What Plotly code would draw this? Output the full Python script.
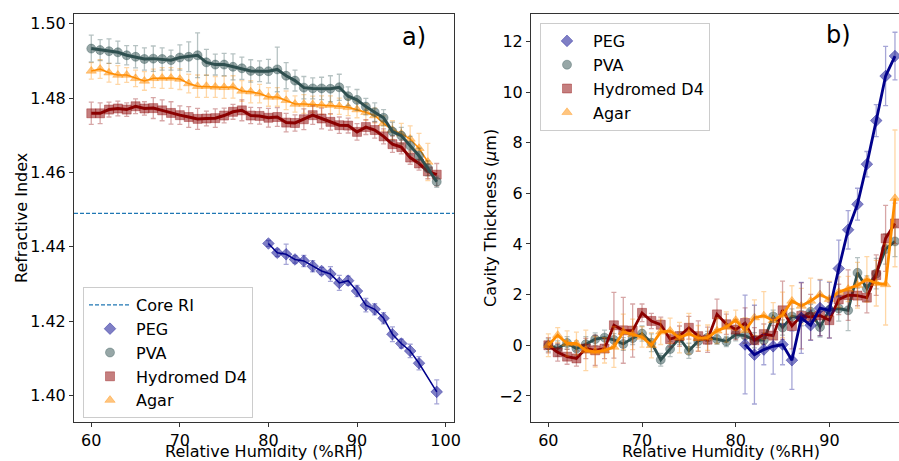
import plotly.graph_objects as go

# ---------------- data: panel a) refractive index ----------------
RH_A = list(range(60, 100))
PVA_RI = [1.4933, 1.4929, 1.4926, 1.4923, 1.4915, 1.4911, 1.4905, 1.4906, 1.4905, 1.4902,
          1.4909, 1.4911, 1.4915, 1.4896, 1.4890, 1.4890, 1.4884, 1.4880, 1.4873, 1.4872,
          1.4872, 1.4877, 1.4860, 1.4847, 1.4828, 1.4826, 1.4826, 1.4825, 1.4829, 1.4805,
          1.4795, 1.4777, 1.4762, 1.4747, 1.4710, 1.4699, 1.4672, 1.4645, 1.4611, 1.4575]
PVA_RI_ERR = [0.0036, 0.0028, 0.0033, 0.0030, 0.0026, 0.0030, 0.0030, 0.0034, 0.0030, 0.0027,
              0.0034, 0.0040, 0.0060, 0.0035, 0.0028, 0.0030, 0.0035, 0.0030, 0.0030, 0.0028,
              0.0032, 0.0060, 0.0035, 0.0028, 0.0030, 0.0028, 0.0030, 0.0035, 0.0035, 0.0025,
              0.0028, 0.0022, 0.0025, 0.0022, 0.0025, 0.0022, 0.0025, 0.0020, 0.0020, 0.0015]

HYD_RI = [1.4759, 1.4759, 1.4769, 1.4772, 1.4769, 1.4778, 1.4772, 1.4773, 1.4767, 1.4760,
          1.4754, 1.4749, 1.4744, 1.4745, 1.4746, 1.4753, 1.4763, 1.4767, 1.4753, 1.4752,
          1.4747, 1.4749, 1.4734, 1.4733, 1.4743, 1.4754, 1.4745, 1.4736, 1.4727, 1.4726,
          1.4709, 1.4722, 1.4714, 1.4697, 1.4676, 1.4668, 1.4640, 1.4624, 1.4603, 1.4594]
HYD_RI_ERR = [0.0030, 0.0028, 0.0020, 0.0020, 0.0018, 0.0020, 0.0018, 0.0028, 0.0028, 0.0030,
              0.0025, 0.0028, 0.0028, 0.0020, 0.0025, 0.0020, 0.0020, 0.0028, 0.0022, 0.0022,
              0.0025, 0.0025, 0.0025, 0.0022, 0.0028, 0.0025, 0.0028, 0.0022, 0.0022, 0.0020,
              0.0022, 0.0020, 0.0022, 0.0020, 0.0022, 0.0018, 0.0018, 0.0018, 0.0020, 0.0030]

AGAR_RH_A = list(range(60, 99))
AGAR_RI = [1.4873, 1.4878, 1.4868, 1.4862, 1.4862, 1.4853, 1.4846, 1.4853, 1.4854, 1.4854,
           1.4851, 1.4839, 1.4832, 1.4832, 1.4830, 1.4829, 1.4830, 1.4819, 1.4817, 1.4812,
           1.4803, 1.4803, 1.4794, 1.4784, 1.4784, 1.4783, 1.4781, 1.4781, 1.4778, 1.4775,
           1.4769, 1.4762, 1.4753, 1.4732, 1.4714, 1.4704, 1.4690, 1.4665, 1.4628]
AGAR_RI_ERR = [0.0022, 0.0025, 0.0025, 0.0025, 0.0020, 0.0022, 0.0025, 0.0025, 0.0028, 0.0028,
               0.0028, 0.0025, 0.0030, 0.0030, 0.0028, 0.0030, 0.0030, 0.0028, 0.0030, 0.0025,
               0.0025, 0.0025, 0.0025, 0.0022, 0.0025, 0.0022, 0.0025, 0.0025, 0.0022, 0.0022,
               0.0022, 0.0022, 0.0020, 0.0020, 0.0025, 0.0028, 0.0035, 0.0040, 0.0050]

PEG_RH_A = [80, 81, 82, 83, 84, 85, 86, 87, 88, 89, 90, 91, 92, 93, 94, 95, 96, 97, 99]
PEG_RI = [1.4409, 1.4384, 1.4380, 1.4366, 1.4362, 1.4348, 1.4335, 1.4327, 1.4303, 1.4309,
          1.4281, 1.4243, 1.4232, 1.4208, 1.4165, 1.4140, 1.4120, 1.4087, 1.4010]
PEG_RI_ERR = [0.0008, 0.0010, 0.0027, 0.0010, 0.0015, 0.0015, 0.0010, 0.0020, 0.0020, 0.0012,
              0.0015, 0.0018, 0.0015, 0.0015, 0.0020, 0.0012, 0.0018, 0.0018, 0.0032]

CORE_RI = 1.449

# ---------------- data: panel b) cavity thickness ----------------
RH_B = list(range(60, 98))
PVA_CT = [0.00, -0.13, 0.09, -0.13, 0.04, 0.24, 0.30, 0.21, 0.05, 0.28,
          0.46, 0.10, -0.57, -0.15, 0.28, -0.22, 0.17, 0.30, 0.24, 0.15,
          0.42, 0.38, 0.20, 0.20, 1.14, 0.70, 1.14, 1.07, 1.32, 0.72,
          1.40, 1.45, 1.38, 2.86, 2.24, 2.83, 3.80, 4.10]
PVA_CT_ERR = [0.25, 0.30, 0.25, 0.30, 0.30, 0.25, 0.30, 0.25, 0.25, 0.25,
              0.30, 0.35, 0.25, 0.30, 0.25, 0.30, 0.25, 0.25, 0.20, 0.20,
              0.25, 0.30, 0.30, 0.30, 0.25, 0.30, 0.30, 0.30, 0.30, 0.40,
              0.40, 0.50, 0.80, 0.60, 0.50, 0.60, 0.60, 0.60]

HYD_CT = [0.00, -0.28, -0.45, -0.52, -0.13, -0.20, -0.13, 0.79, 0.59, 0.58,
          1.28, 0.96, 0.81, 0.24, 0.36, 0.69, 0.36, 0.22, 1.22, 0.83,
          0.62, 0.88, 0.20, 0.44, 0.38, 1.38, 0.76, 1.16, 1.11, 1.18,
          0.99, 1.81, 1.98, 1.96, 1.88, 2.77, 4.22, 4.81]
HYD_CT_ERR = [0.30, 0.35, 0.30, 0.30, 0.40, 0.60, 0.40, 1.30, 1.30, 1.05,
              0.35, 0.30, 0.30, 0.30, 0.40, 0.45, 0.60, 0.50, 0.60, 0.40,
              0.40, 0.60, 0.50, 0.40, 0.40, 1.15, 0.90, 1.30, 0.90, 0.80,
              0.70, 0.60, 1.00, 0.40, 0.60, 0.80, 1.30, 0.80]

AGAR_CT = [0.00, 0.40, 0.07, 0.07, -0.20, -0.26, -0.20, -0.07, 0.53, 0.43,
           0.33, 0.00, 0.53, 0.57, 0.30, 0.46, 0.28, 0.30, 0.57, 0.72,
           0.99, 0.59, 1.09, 1.17, 0.98, 1.20, 1.75, 1.55, 1.75, 2.00,
           1.82, 2.10, 2.22, 2.37, 2.60, 2.45, 2.40, 5.80]
AGAR_CT_ERR = [0.45, 0.30, 0.50, 0.45, 0.80, 0.60, 0.50, 0.80, 0.70, 0.60,
               0.40, 0.50, 0.50, 0.50, 0.60, 0.80, 0.50, 0.50, 0.50, 0.60,
               0.40, 0.50, 0.70, 0.95, 0.70, 0.90, 0.60, 0.70, 0.90, 0.60,
               0.70, 0.60, 0.50, 0.90, 0.90, 0.90, 1.60, 2.70]

PEG_RH_B = list(range(81, 98))
PEG_CT = [0.03, -0.37, -0.17, -0.04, 0.03, -0.59, 1.08, 0.79, 1.47, 1.38,
          3.03, 4.56, 5.57, 7.15, 8.87, 10.63, 11.42]
PEG_CT_ERR = [1.95, 1.95, 0.60, 1.10, 0.80, 1.15, 1.40, 0.60, 1.10, 1.10,
              1.12, 0.76, 0.63, 0.50, 0.63, 1.17, 0.94]

X_TITLE = "Relative Humidity (%RH)"
Y_TITLE_A = "Refractive Index"
Y_TITLE_B = "Cavity Thickness (<i>μ</i>m)"

# ---------------- styling ----------------
FONT = "DejaVu Sans"
XRANGE_A = [58.05, 100.95]
YRANGE_A = [1.3929, 1.5026]
XRANGE_B = [58.15, 97.43]
YRANGE_B = [-3.03, 13.08]

COL = {
    "PEG": (0, 0, 139),
    "PVA": (47, 79, 79),
    "Hydromed D4": (139, 0, 0),
    "Agar": (255, 140, 0),
}
SYM = {"PEG": "diamond", "PVA": "circle", "Hydromed D4": "square", "Agar": "triangle-up"}
MSIZE = {"PEG": 9, "PVA": 9, "Hydromed D4": 9, "Agar": 9}


def rgba(c, a):
    return "rgba(%d,%d,%d,%.2f)" % (c[0], c[1], c[2], a)


fig = go.Figure()


def add_series(name, x, y, err, xa, ya, legend, lw, order):
    c = COL[name]
    fig.add_trace(go.Scatter(
        x=x, y=y, mode="markers", name=name, xaxis=xa, yaxis=ya, legend=legend,
        legendrank=order,
        marker=dict(symbol=SYM[name], size=MSIZE[name], color=rgba(c, 0.5),
                    line=dict(color=rgba(c, 0.35), width=1)),
        error_y=dict(type="data", array=err, visible=True, color=rgba(c, 0.35),
                     thickness=1.3, width=2.5),
    ))
    fig.add_trace(go.Scatter(
        x=x, y=y, mode="lines", showlegend=False, xaxis=xa, yaxis=ya, hoverinfo="skip",
        line=dict(color=rgba(c, 1.0), width=lw),
    ))


# panel a
fig.add_trace(go.Scatter(
    x=XRANGE_A, y=[CORE_RI, CORE_RI], mode="lines", name="Core RI",
    xaxis="x", yaxis="y", legend="legend", legendrank=1,
    line=dict(color="#1f77b4", width=1.3, dash="4px,2px"),
))
add_series("Agar", AGAR_RH_A, AGAR_RI, AGAR_RI_ERR, "x", "y", "legend", 1.5, 5)
add_series("Hydromed D4", RH_A, HYD_RI, HYD_RI_ERR, "x", "y", "legend", 3, 4)
add_series("PVA", RH_A, PVA_RI, PVA_RI_ERR, "x", "y", "legend", 3, 3)
add_series("PEG", PEG_RH_A, PEG_RI, PEG_RI_ERR, "x", "y", "legend", 1.5, 2)

# panel b
add_series("PVA", RH_B, PVA_CT, PVA_CT_ERR, "x2", "y2", "legend2", 2.8, 3)
add_series("Hydromed D4", RH_B, HYD_CT, HYD_CT_ERR, "x2", "y2", "legend2", 2.8, 4)
add_series("Agar", RH_B, AGAR_CT, AGAR_CT_ERR, "x2", "y2", "legend2", 2.8, 5)
add_series("PEG", PEG_RH_B, PEG_CT, PEG_CT_ERR, "x2", "y2", "legend2", 2.8, 2)

W, H = 899, 461
axis_common = dict(
    showgrid=False, zeroline=False, showline=True, linecolor="#333", linewidth=1,
    ticks="outside", ticklen=4, tickwidth=1, tickcolor="#333", automargin=False,
    tickfont=dict(family=FONT, size=16, color="black"),
)

legend_common = dict(
    xanchor="left", yanchor="top", bgcolor="rgba(255,255,255,0.8)",
    bordercolor="#cccccc", borderwidth=1, itemwidth=42,
    font=dict(family=FONT, size=16, color="black"), tracegroupgap=0,
)


def paper_text(text, px, py, size=16, angle=0):
    return dict(text=text, x=px / W, y=1 - py / H, xref="paper", yref="paper",
                xanchor="center", yanchor="middle", textangle=angle,
                showarrow=False, font=dict(family=FONT, size=size, color="black"))


fig.update_layout(
    template="none",
    width=W, height=H,
    margin=dict(l=0, r=0, t=0, b=0, autoexpand=False),
    paper_bgcolor="white", plot_bgcolor="white",
    font=dict(family=FONT, size=16, color="black"),
    xaxis=dict(domain=[74 / W, 454 / W], range=XRANGE_A, anchor="y",
               tickvals=[60, 70, 80, 90, 100], mirror=True, **axis_common),
    yaxis=dict(domain=[1 - 422 / H, 1 - 14 / H], range=YRANGE_A, anchor="x",
               tickvals=[1.40, 1.42, 1.44, 1.46, 1.48, 1.50], tickformat=".2f",
               mirror=True, **axis_common),
    xaxis2=dict(domain=[531 / W, 1.0], range=XRANGE_B, anchor="y2",
                tickvals=[60, 70, 80, 90], mirror=True, **axis_common),
    yaxis2=dict(domain=[1 - 422 / H, 1 - 14 / H], range=YRANGE_B, anchor="x2",
                tickvals=[-2, 0, 2, 4, 6, 8, 10, 12], **axis_common),
    legend=dict(x=83 / W, y=1 - 287 / H, **legend_common),
    legend2=dict(x=540 / W, y=1 - 23 / H, **legend_common),
    annotations=[
        paper_text("a)", 414, 37, size=24),
        paper_text("b)", 838, 35, size=24),
        paper_text(X_TITLE, 264, 451),
        paper_text(X_TITLE, 721, 451),
        paper_text(Y_TITLE_A, 21, 218, angle=-90),
        paper_text(Y_TITLE_B, 490, 218, angle=-90),
    ],
    showlegend=True,
)

fig.write_html("out.html")
